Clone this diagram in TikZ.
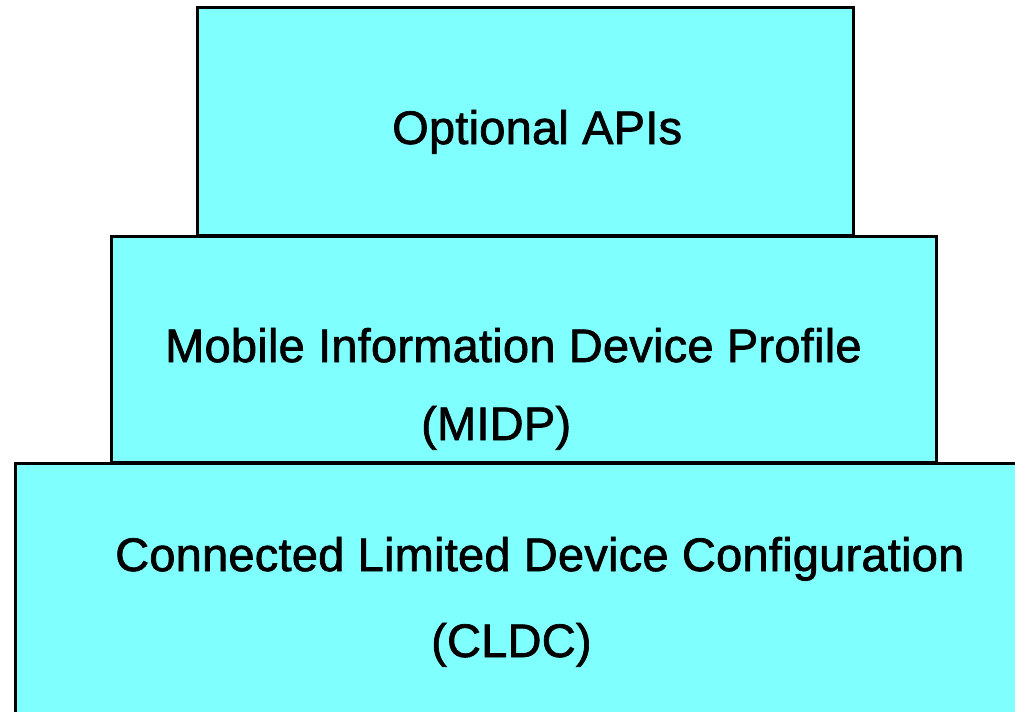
\documentclass[tikz,border=0pt]{standalone}
\usepackage{fontspec}
\setmainfont{Liberation Sans}
\newfontfamily\lblfont{Liberation Sans}[FakeBold=1.5, LetterSpace=0.5]
\definecolor{layercyan}{RGB}{128,255,255}
\begin{document}
\begin{tikzpicture}[x=1pt,y=-1pt,
  layer/.style={draw=black, fill=layercyan, line width=3pt, inner sep=0pt, outer sep=0pt},
  lbl/.style={anchor=base west, inner sep=0pt, font=\lblfont\fontsize{47}{56}\selectfont}]
\useasboundingbox (0,0) rectangle (1015,712);
\clip (0,0) rectangle (1015,712);
% boxes
\draw[layer] (15,463) rectangle (1030,730);
\draw[layer] (111,236) rectangle (936,462);
\draw[layer] (197,7) rectangle (853,235);
% labels
\node[lbl] (api) at (392,144) {Optional APIs};
\node[lbl] (midp1) at (165,362) {Mobile Information Device Profile};
\node[lbl] (midp2) at (421,440) {(MIDP)};
\node[lbl] (cldc1) at (115,571) {Connected Limited Device Configuration};
\node[lbl] (cldc2) at (431,657) {(CLDC)};
\end{tikzpicture}
\end{document}
